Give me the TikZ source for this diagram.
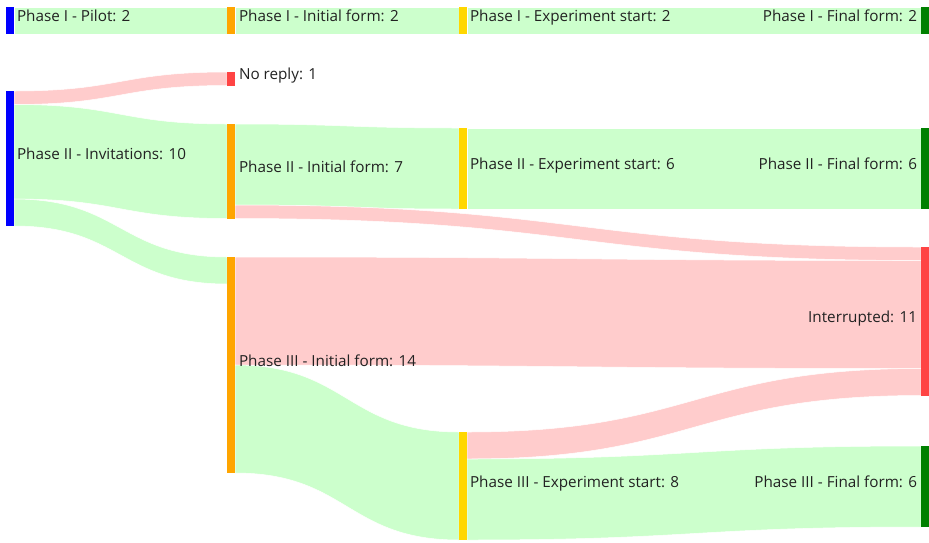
\documentclass[tikz,border=0pt]{standalone}
\usepackage{fontspec}
\setmainfont{Open Sans}
\usetikzlibrary{calc}
\definecolor{linkgreen}{RGB}{204,255,204}
\definecolor{linkred}{RGB}{255,204,204}
\definecolor{nodeblue}{RGB}{0,0,255}
\definecolor{nodeorange}{RGB}{255,165,0}
\definecolor{nodegold}{RGB}{255,215,0}
\definecolor{nodegreen}{RGB}{0,128,0}
\definecolor{nodered}{RGB}{255,68,68}
\definecolor{labelgray}{RGB}{34,34,34}
\tikzset{
  bar/.style={rectangle, inner sep=0pt, outer sep=0pt, draw=none, minimum width=8pt, anchor=north west},
  lbl/.style={inner sep=0pt, outer sep=0pt, text=labelgray, font=\fontsize{15.25}{18}\selectfont},
  gband/.style={fill=linkgreen, draw=white, line width=0.5pt},
  rband/.style={fill=linkred, draw=white, line width=0.5pt},
}
% one unit of flow in points
\newcommand\flowunit{13.5}
% \band{source}{offset at source}{target}{offset at target}{units}{style}
\newcommand\band[6]{%
  \path[#6] let \p1=(#1.north east), \p2=(#3.north west),
      \p3=($(#1.north east)!.5!(#3.north west)$) in
    (\x1,\y1-#2*\flowunit pt)
      .. controls (\x3,\y1-#2*\flowunit pt) and (\x3,\y2-#4*\flowunit pt) ..
    (\x2,\y2-#4*\flowunit pt)
      -- (\x2,\y2-#4*\flowunit pt-#5*\flowunit pt)
      .. controls (\x3,\y2-#4*\flowunit pt-#5*\flowunit pt) and (\x3,\y1-#2*\flowunit pt-#5*\flowunit pt) ..
    (\x1,\y1-#2*\flowunit pt-#5*\flowunit pt) -- cycle;}
\begin{document}
\begin{tikzpicture}[x=1pt,y=-1pt]
\useasboundingbox (0,0) rectangle (929,542);

% stage bars
\node[bar, fill=nodeblue,   minimum height=27pt]    (pilot)   at (6,7) {};
\node[bar, fill=nodeorange, minimum height=27pt]    (ini1)    at (227,7) {};
\node[bar, fill=nodegold,   minimum height=27pt]    (exp1)    at (459,7) {};
\node[bar, fill=nodegreen,  minimum height=27pt]    (fin1)    at (921,7) {};
\node[bar, fill=nodeblue,   minimum height=135pt]   (inv)     at (6,91) {};
\node[bar, fill=nodered,    minimum height=13.5pt]  (noreply) at (227,72) {};
\node[bar, fill=nodeorange, minimum height=94.5pt]  (ini2)    at (227,124) {};
\node[bar, fill=nodeorange, minimum height=216pt]   (ini3)    at (227,257) {};
\node[bar, fill=nodegold,   minimum height=81pt]    (exp2)    at (459,128) {};
\node[bar, fill=nodegold,   minimum height=108pt]   (exp3)    at (459,432) {};
\node[bar, fill=nodegreen,  minimum height=81pt]    (fin2)    at (921,128) {};
\node[bar, fill=nodered,    minimum height=148.5pt] (intr)    at (921,247) {};
\node[bar, fill=nodegreen,  minimum height=81pt]    (fin3)    at (921,446) {};

% flows
\band{pilot}{0}{ini1}{0}{2}{gband}
\band{ini1}{0}{exp1}{0}{2}{gband}
\band{exp1}{0}{fin1}{0}{2}{gband}
\band{inv}{0}{noreply}{0}{1}{rband}
\band{inv}{1}{ini2}{0}{7}{gband}
\band{inv}{8}{ini3}{0}{2}{gband}
\band{ini2}{0}{exp2}{0}{6}{gband}
\band{ini2}{6}{intr}{0}{1}{rband}
\band{ini3}{0}{intr}{1}{8}{rband}
\band{ini3}{8}{exp3}{0}{8}{gband}
\band{exp2}{0}{fin2}{0}{6}{gband}
\band{exp3}{0}{intr}{9}{2}{rband}
\band{exp3}{2}{fin3}{0}{6}{gband}

% redraw bars above the flows
\foreach \n/\c in {pilot/nodeblue, ini1/nodeorange, exp1/nodegold, fin1/nodegreen,
  inv/nodeblue, noreply/nodered, ini2/nodeorange, ini3/nodeorange, exp2/nodegold,
  exp3/nodegold, fin2/nodegreen, intr/nodered, fin3/nodegreen}
  \fill[\c] (\n.north west) rectangle (\n.south east);

% labels
\node[lbl, anchor=base west] (pilotL)   at ([xshift=3pt,yshift=-1pt]pilot.east)   {Phase I - Pilot: 2};
\node[lbl, anchor=base west] (ini1L)    at ([xshift=4pt,yshift=-1pt]ini1.east)    {Phase I - Initial form: 2};
\node[lbl, anchor=base west] (exp1L)    at ([xshift=3pt,yshift=-1pt]exp1.east)    {Phase I - Experiment start: 2};
\node[lbl, anchor=base east] (fin1L)    at ([xshift=-4pt,yshift=-1pt]fin1.west)   {Phase I - Final form: 2};
\node[lbl, anchor=base west] (invL)     at ([xshift=3pt,yshift=-1pt]inv.east)     {Phase II - Invitations: 10};
\node[lbl, anchor=base west] (noreplyL) at ([xshift=4pt,yshift=-1pt]noreply.east) {No reply: 1};
\node[lbl, anchor=base west] (ini2L)    at ([xshift=4pt,yshift=-1pt]ini2.east)    {Phase II - Initial form: 7};
\node[lbl, anchor=base west] (ini3L)    at ([xshift=4pt,yshift=-1pt]ini3.east)    {Phase III - Initial form: 14};
\node[lbl, anchor=base west] (exp2L)    at ([xshift=3pt,yshift=-1pt]exp2.east)    {Phase II - Experiment start: 6};
\node[lbl, anchor=base west] (exp3L)    at ([xshift=3pt,yshift=-1pt]exp3.east)    {Phase III - Experiment start: 8};
\node[lbl, anchor=base east] (fin2L)    at ([xshift=-4pt,yshift=-1pt]fin2.west)   {Phase II - Final form: 6};
\node[lbl, anchor=base east] (intrL)    at ([xshift=-4pt,yshift=-1pt]intr.west)   {Interrupted: 11};
\node[lbl, anchor=base east] (fin3L)    at ([xshift=-4pt,yshift=-1pt]fin3.west)   {Phase III - Final form: 6};
\end{tikzpicture}
\end{document}
